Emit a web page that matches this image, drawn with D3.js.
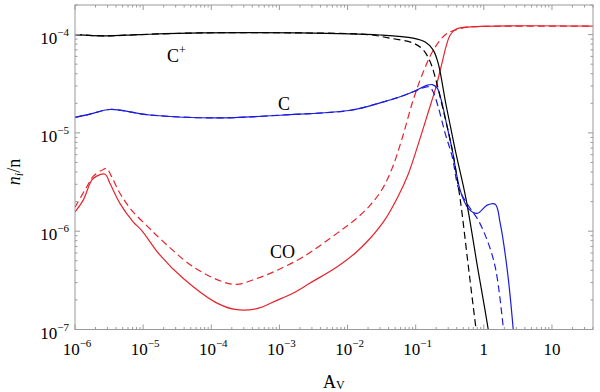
<!DOCTYPE html>
<html>
<head>
<meta charset="utf-8">
<script src="https://cdn.jsdelivr.net/npm/d3@7"></script>
<style>
  body { margin: 0; background: #fff; }
  text { font-family: "Liberation Serif", "DejaVu Serif", serif; fill: #000; }
</style>
</head>
<body>
<svg width="600" height="392"></svg>
<script>
// A_V values and abundances n_i/n
var cpSolidAv = [1e-6, 2.8e-6, 9e-6, 6.9e-5, 2e-3, 0.03, 0.092, 0.138, 0.18, 0.214, 0.28, 0.38, 0.55, 0.8, 1.16, 1.6];
var cpSolidN  = [1.0e-4, 9.7e-5, 1.0e-4, 1.04e-4, 1.04e-4, 9.9e-5, 9.2e-5, 8.4e-5, 7e-5, 5.1e-5, 1.9e-5, 6.7e-6, 2.1e-6, 4.5e-7, 1e-7, 2e-8];

var cpDashAv = [1e-6, 2.8e-6, 9e-6, 6.9e-5, 2e-3, 0.02, 0.042, 0.092, 0.129, 0.163, 0.193, 0.254, 0.344, 0.45, 0.59, 0.77, 1.05];
var cpDashN  = [1.0e-4, 9.7e-5, 1.0e-4, 1.04e-4, 1.04e-4, 1.0e-4, 9.2e-5, 8.2e-5, 7e-5, 5.3e-5, 3.7e-5, 1.7e-5, 6.7e-6, 2.1e-6, 4.5e-7, 1e-7, 2e-8];

var cSolidAv = [1e-6, 1.66e-6, 3.27e-6, 1.26e-5, 1.22e-4, 1.13e-3, 0.011, 0.03, 0.059, 0.092, 0.148, 0.175, 0.207, 0.237, 0.29, 0.344, 0.45, 0.59, 0.8, 1.12, 1.47, 1.74, 2.21, 2.7, 3.2];
var cSolidN  = [1.44e-5, 1.55e-5, 1.73e-5, 1.52e-5, 1.42e-5, 1.52e-5, 1.7e-5, 2.02e-5, 2.33e-5, 2.62e-5, 3.06e-5, 3.1e-5, 2.86e-5, 2.16e-5, 1.15e-5, 6.7e-6, 2.6e-6, 1.71e-6, 1.52e-6, 1.84e-6, 1.88e-6, 1.2e-6, 4e-7, 1e-7, 2e-8];

var cDashAv = [1e-6, 1.66e-6, 3.27e-6, 1.26e-5, 1.22e-4, 1.13e-3, 0.011, 0.03, 0.059, 0.092, 0.158, 0.18, 0.214, 0.27, 0.344, 0.42, 0.5, 0.63, 0.83, 1.12, 1.47, 1.93, 2.3];
var cDashN  = [1.44e-5, 1.55e-5, 1.73e-5, 1.52e-5, 1.42e-5, 1.52e-5, 1.7e-5, 2.02e-5, 2.33e-5, 2.62e-5, 2.94e-5, 2.62e-5, 1.84e-5, 9.95e-6, 5.7e-6, 2.8e-6, 2.2e-6, 1.71e-6, 1.29e-6, 8.1e-7, 4.3e-7, 1.05e-7, 3e-8];

var coSolidAv = [1e-6, 1.32e-6, 1.76e-6, 2.08e-6, 2.76e-6, 3.27e-6, 4.58e-6, 7.18e-6, 9.5e-6, 1.77e-5, 3.89e-5, 1.14e-4, 2.24e-4, 4.66e-4, 9.2e-4, 1.6e-3, 2.82e-3, 6.97e-3, 0.0129, 0.0215, 0.0356, 0.0553, 0.0776, 0.109, 0.153, 0.2, 0.245, 0.28, 0.321, 0.394, 0.631, 40];
var coSolidN  = [1.57e-6, 2.07e-6, 3.3e-6, 3.63e-6, 3.8e-6, 3.05e-6, 1.91e-6, 1.24e-6, 1.02e-6, 5.7e-7, 3.3e-7, 1.9e-7, 1.6e-7, 1.63e-7, 1.98e-7, 2.35e-7, 2.97e-7, 4.33e-7, 5.97e-7, 8.48e-7, 1.32e-6, 2.27e-6, 3.8e-6, 7.69e-6, 1.63e-5, 2.99e-5, 5.26e-5, 7.64e-5, 9.9e-5, 1.14e-4, 1.2e-4, 1.22e-4];

var coDashAv = [1e-6, 1.49e-6, 1.86e-6, 2.6e-6, 2.92e-6, 3.46e-6, 4.58e-6, 6.8e-6, 1.19e-5, 1.77e-5, 5.46e-5, 1.51e-4, 2.37e-4, 4.66e-4, 9.2e-4, 2.25e-3, 6.97e-3, 0.0129, 0.0215, 0.0322, 0.0452, 0.0634, 0.0918, 0.129, 0.175, 0.229, 0.29, 0.406, 0.57, 0.885, 40];
var coDashN  = [1.75e-6, 2.83e-6, 3.63e-6, 4.25e-6, 4.35e-6, 3.57e-6, 2.42e-6, 1.63e-6, 1.1e-6, 8.4e-7, 4.33e-7, 3.04e-7, 2.88e-7, 3.3e-7, 4.0e-7, 5.5e-7, 9.5e-7, 1.31e-6, 1.84e-6, 2.67e-6, 4.38e-6, 8.85e-6, 2.16e-5, 4.16e-5, 6.64e-5, 8.8e-5, 1.03e-4, 1.13e-4, 1.19e-4, 1.21e-4, 1.22e-4];

var xMajor = [1e-6, 1e-5, 1e-4, 1e-3, 1e-2, 1e-1, 1, 10];
var xMajorLabels = [["10", "−6"], ["10", "−5"], ["10", "−4"], ["10", "−3"], ["10", "−2"], ["10", "−1"], ["1", ""], ["10", ""]];
var yMajor = [1e-7, 1e-6, 1e-5, 1e-4];
var yMajorLabels = [["10", "−7"], ["10", "−6"], ["10", "−5"], ["10", "−4"]];

var series = [
  {av: coSolidAv, n: coSolidN, color: "#e8232b", dash: null},
  {av: coDashAv, n: coDashN, color: "#e8232b", dash: "7,4"},
  {av: cSolidAv, n: cSolidN, color: "#1c1cdc", dash: null},
  {av: cDashAv, n: cDashN, color: "#1c1cdc", dash: "7,4"},
  {av: cpSolidAv, n: cpSolidN, color: "#000", dash: null},
  {av: cpDashAv, n: cpDashN, color: "#000", dash: "7,4"}
];

var svg = d3.select("svg");
var plotL = 75, plotR = 593, plotT = 5, plotB = 329.5;

var x = d3.scaleLog().domain([1e-6, 40]).range([plotL, plotR]);
var y = d3.scaleLog().domain([1e-7, 2e-4]).range([plotB, plotT]);

svg.append("clipPath").attr("id", "plotclip")
  .append("rect").attr("x", plotL).attr("y", plotT)
  .attr("width", plotR - plotL).attr("height", plotB - plotT);

var line = d3.line()
  .x(d => x(d[0]))
  .y(d => y(d[1]))
  .curve(d3.curveCatmullRom.alpha(0.5));

var g = svg.append("g").attr("clip-path", "url(#plotclip)");
series.forEach(function(s) {
  var pts = s.av.map((a, i) => [a, s.n[i]]);
  g.append("path")
    .datum(pts)
    .attr("d", line)
    .attr("fill", "none")
    .attr("stroke", s.color)
    .attr("stroke-width", 1.2)
    .attr("stroke-dasharray", s.dash);
});

// frame
svg.append("rect")
  .attr("x", plotL).attr("y", plotT)
  .attr("width", plotR - plotL).attr("height", plotB - plotT)
  .attr("fill", "none").attr("stroke", "#9a9a9a").attr("stroke-width", 1);

// minor tick positions
function minors(lo, hi) {
  var out = [];
  for (var e = -8; e <= 2; e++) {
    for (var k = 1; k <= 9; k++) {
      var v = k * Math.pow(10, e);
      if (v >= lo * 0.999 && v <= hi * 1.001) out.push({v: v, major: k === 1});
    }
  }
  return out;
}

var ticks = svg.append("g").attr("stroke", "#9a9a9a").attr("stroke-width", 1);
minors(1e-6, 40).forEach(function(t) {
  var px = x(t.v), len = t.major ? 5 : 2.5;
  ticks.append("line").attr("x1", px).attr("x2", px).attr("y1", plotB).attr("y2", plotB - len);
  ticks.append("line").attr("x1", px).attr("x2", px).attr("y1", plotT).attr("y2", plotT + len);
});
minors(1e-7, 2e-4).forEach(function(t) {
  var py = y(t.v), len = t.major ? 5 : 2.5;
  ticks.append("line").attr("y1", py).attr("y2", py).attr("x1", plotL).attr("x2", plotL + len);
  ticks.append("line").attr("y1", py).attr("y2", py).attr("x1", plotR).attr("x2", plotR - len);
});

// tick labels
xMajor.forEach(function(v, i) {
  var lab = xMajorLabels[i];
  var t = svg.append("text")
    .attr("x", x(v) + (lab[1] ? 2 : 0)).attr("y", 355)
    .attr("text-anchor", "middle")
    .attr("font-size", 17);
  t.append("tspan").text(lab[0]);
  if (lab[1]) t.append("tspan").attr("font-size", 11).attr("dy", -8).text(lab[1]);
});
yMajor.forEach(function(v, i) {
  var lab = yMajorLabels[i];
  var t = svg.append("text")
    .attr("x", 69).attr("y", y(v) + 9)
    .attr("text-anchor", "end")
    .attr("font-size", 17);
  t.append("tspan").text(lab[0]);
  t.append("tspan").attr("font-size", 11).attr("dy", -8).text(lab[1]);
});

// curve labels
var cp = svg.append("text").attr("x", 167).attr("y", 62).attr("font-size", 18);
cp.append("tspan").text("C");
cp.append("tspan").attr("font-size", 12).attr("dy", -8).text("+");
svg.append("text").attr("x", 278).attr("y", 110).attr("font-size", 18).text("C");
svg.append("text").attr("x", 270).attr("y", 258).attr("font-size", 18).text("CO");

// axis titles
var xt = svg.append("text").attr("x", 323).attr("y", 388).attr("font-size", 18);
xt.append("tspan").text("A");
xt.append("tspan").attr("font-size", 12).attr("dy", 1).text("V");

var yt = svg.append("text")
  .attr("transform", "translate(20,172) rotate(-90)")
  .attr("text-anchor", "middle")
  .attr("font-size", 18);
yt.append("tspan").attr("font-style", "italic").text("n");
yt.append("tspan").attr("font-style", "italic").attr("font-size", 12).attr("dy", 3).text("i");
yt.append("tspan").attr("dy", -3).text("/n");
</script>
</body>
</html>
